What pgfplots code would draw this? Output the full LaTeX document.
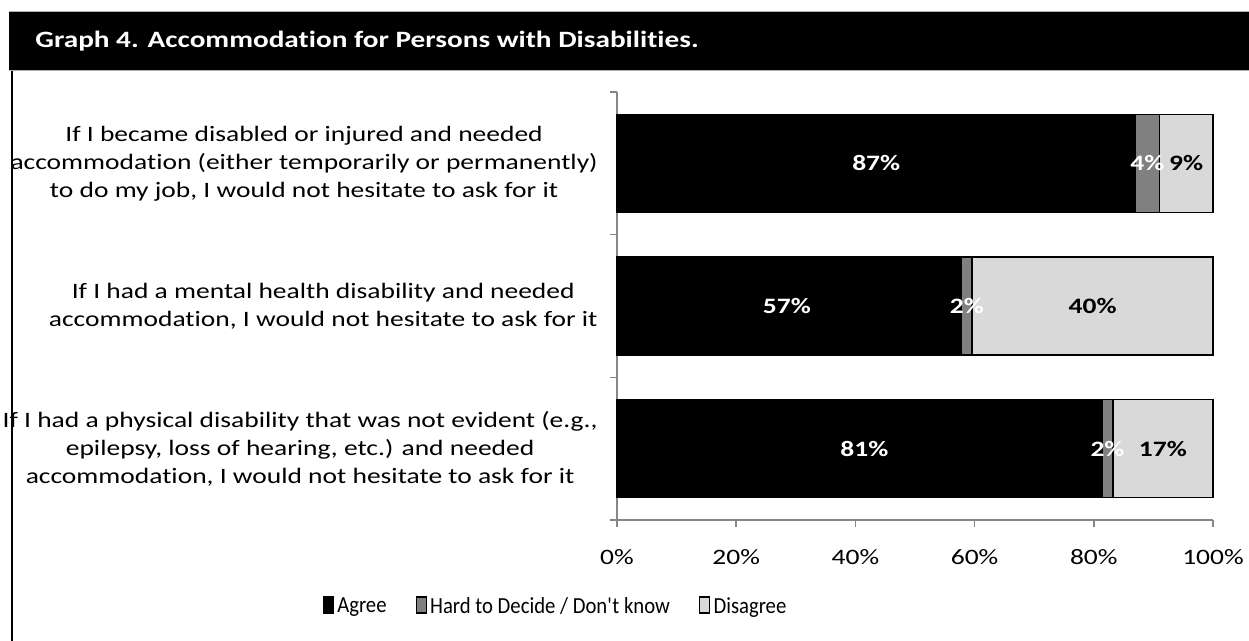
\documentclass[border=0pt]{standalone}
\usepackage{pgfplots}
\pgfplotsset{compat=1.18}
\usepackage{fontspec}
\setmainfont{Carlito}[FakeStretch=1.25, Ligatures=NoCommon]
\newfontfamily\legfont{Carlito}[FakeStretch=0.9, Ligatures=NoCommon]
\definecolor{hardgray}{HTML}{808080}
\definecolor{disgray}{HTML}{D9D9D9}
\definecolor{axgray}{HTML}{868686}
\newcommand{\lblfont}{\fontsize{11}{14}\selectfont}
\begin{document}
\begin{tikzpicture}
\useasboundingbox (0,0) rectangle (624.5pt,320.5pt);
\fill[white] (0,0) rectangle (624.5pt,320.5pt);
\fill[black] (4.5pt,285pt) rectangle (624.5pt,314.5pt);
\draw[gray!60, line width=0.5pt] (4.5pt,285pt) -- (624.5pt,285pt);
\draw[gray!60, line width=0.5pt] (4.5pt,314.5pt) -- (624.5pt,314.5pt);
\node[anchor=west, text=white, font=\bfseries\fontsize{11.7}{13}\selectfont, inner sep=0pt] at (17.5pt,300pt) {Graph 4. Accommodation for Persons with Disabilities.};
\draw[black, line width=1pt] (6pt,0) -- (6pt,285pt);
\begin{axis}[
  at={(308.5pt,60.5pt)}, anchor=south west,
  scale only axis, width=298pt, height=214pt,
  xbar stacked, bar width=49pt,
  xmin=0, xmax=100, ymin=0.5, ymax=3.5, y dir=reverse,
  clip=false,
  axis lines*=left,
  axis line style={axgray, line width=0.8pt},
  xtick={0,20,40,60,80,100},
  xticklabels={0\%,20\%,40\%,60\%,80\%,100\%},
  ytick={0.5,1.5,2.5,3.5}, yticklabels={},
  tick align=outside, major tick length=3.5pt,
  tick style={axgray, line width=0.8pt},
  xticklabel style={font=\lblfont, yshift=-7.5pt},
  legend image code/.code={\draw[#1, line width=0.6pt] (0pt,-3pt) rectangle (5pt,5pt);},
  legend style={at={(-0.104,-0.2033)}, anchor=center, draw=none, fill=none,
    legend columns=3, font=\legfont\fontsize{11.5}{14}\selectfont,
    nodes={inner sep=0.5pt},
    /tikz/every odd column/.append style={column sep=1.2pt},
    /tikz/every even column/.append style={column sep=14pt}},
]
\addplot[fill=black, draw=black, line width=0.75pt] coordinates {(87,1) (57.8,2) (81.4,3)};
\addplot[fill=hardgray, draw=black, line width=0.75pt] coordinates {(4,1) (1.8,2) (1.8,3)};
\addplot[fill=disgray, draw=black, line width=0.75pt] coordinates {(9,1) (40.4,2) (16.8,3)};
\legend{Agree, Hard to Decide / Don\textquotesingle t know, Disagree}
\node[anchor=east, align=center, xshift=-9.5pt, font=\lblfont, inner sep=0pt] at (axis cs:0,1) {If I became disabled or injured and needed\\accommodation (either temporarily or permanently)\\to do my job, I would not hesitate to ask for it};
\node[anchor=east, align=center, xshift=-9.5pt, font=\lblfont, inner sep=0pt] at (axis cs:0,2) {If I had a mental health disability and needed\\accommodation, I would not hesitate to ask for it};
\node[anchor=east, align=center, xshift=-9.5pt, font=\lblfont, inner sep=0pt] at (axis cs:0,3) {If I had a physical disability that was not evident (e.g.,\\epilepsy, loss of hearing, etc.) and needed\\accommodation, I would not hesitate to ask for it};
\coordinate (a1) at (axis cs:43.5,1);
\coordinate (h1) at (axis cs:89,1);
\coordinate (d1) at (axis cs:95.5,1);
\coordinate (a2) at (axis cs:28.5,2);
\coordinate (h2) at (axis cs:58.7,2);
\coordinate (d2) at (axis cs:79.8,2);
\coordinate (a3) at (axis cs:41.5,3);
\coordinate (h3) at (axis cs:82.3,3);
\coordinate (d3) at (axis cs:91.6,3);
\end{axis}
\tikzset{bl/.style={font=\bfseries\lblfont, inner sep=0pt}}
\node[bl, text=white] at (a1) {87\%};
\node[bl, text=white] at (h1) {4\%};
\node[bl, text=black] at (d1) {9\%};
\node[bl, text=white] at (a2) {57\%};
\node[bl, text=white] at (h2) {2\%};
\node[bl, text=black] at (d2) {40\%};
\node[bl, text=white] at (a3) {81\%};
\node[bl, text=white] at (h3) {2\%};
\node[bl, text=black] at (d3) {17\%};
\end{tikzpicture}
\end{document}
